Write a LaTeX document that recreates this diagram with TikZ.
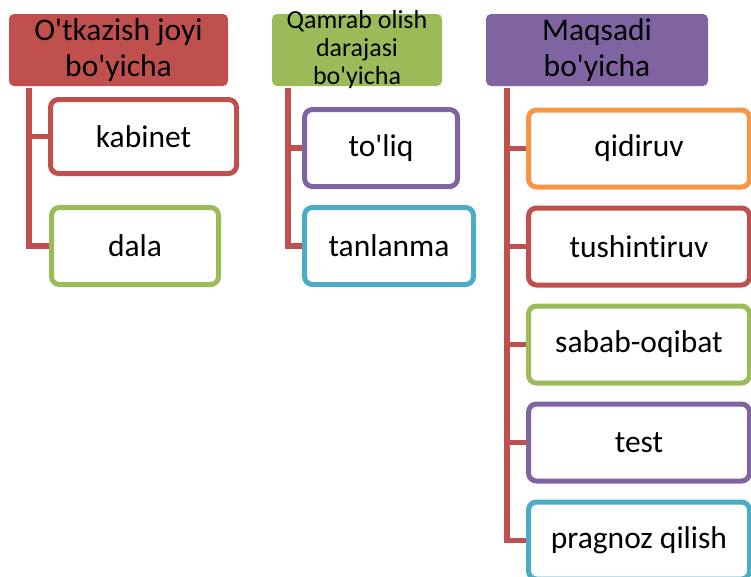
\documentclass[tikz,border=0pt]{standalone}
\usepackage{fontspec}
\setmainfont{Carlito}[Ligatures={TeXOff,CommonOff}]
\usetikzlibrary{positioning}
\definecolor{hred}{HTML}{C0504D}
\definecolor{hgreen}{HTML}{9BBB59}
\definecolor{hpurple}{HTML}{8064A2}
\definecolor{hcyan}{HTML}{4BACC6}
\definecolor{horange}{HTML}{F79646}

\begin{document}
\begin{tikzpicture}[
    x=1pt, y=-1pt,
    node distance=16pt,
    head/.style={rectangle,rounded corners=5pt,align=center,inner sep=0pt,
                 minimum height=72pt,font=\fontsize{31.5}{36}\selectfont},
    item/.style={rectangle,draw,line width=5pt,rounded corners=8pt,fill=white,
                 align=center,minimum height=77pt,font=\fontsize{31.5}{36}\selectfont},
    link/.style={hred,line width=5.5pt}
  ]
    \useasboundingbox (0,0) rectangle (751,576);

    % headers
    \node[head,fill=hred,minimum width=219pt] (h1) at (118.5,50) {O'tkazish joyi\\bo'yicha};
    \node[head,fill=hgreen,minimum width=170pt,font=\fontsize{26}{28}\selectfont] (h2) at (357,50)
      {\parbox[c][72pt][c]{170pt}{\centering Qamrab olish\\darajasi\\bo'yicha}};
    \node[head,fill=hpurple,minimum width=222pt] (h3) at (597,50) {Maqsadi\\bo'yicha};

    % first column
    \node[item,draw=hred,minimum width=186pt,minimum height=74pt] (kab) at (143.5,136.5) {kabinet};
    \node[item,draw=hgreen,minimum width=167pt] (dala) at (135,246) {dala};

    % second column
    \node[item,draw=hpurple,minimum width=153pt] (toliq) at (381,148) {to'liq};
    \node[item,draw=hcyan,minimum width=169pt] (tanl) at (389,246) {tanlanma};

    % third column
    \node[item,draw=horange,minimum width=221pt] (qid) at (639,148.5) {qidiruv};
    \node[item,draw=hred,minimum width=221pt,below=of qid] (tush) {tushintiruv};
    \node[item,draw=hgreen,minimum width=221pt,below=of tush] (sabab) {sabab-oqibat};
    \node[item,draw=hpurple,minimum width=221pt,below=of sabab] (test) {test};
    \node[item,draw=hcyan,minimum width=221pt,below=of test] (prag) {pragnoz qilish};

    \coordinate (t1) at (29,88);
    \coordinate (t2) at (288,88);
    \coordinate (t3) at (507,88);

    \draw[link] (t1) |- (kab.west);
    \draw[link] (t1) |- (dala.west);
    \draw[link] (t2) |- (toliq.west);
    \draw[link] (t2) |- (tanl.west);
    \foreach \n in {qid,tush,sabab,test,prag}
      \draw[link] (t3) |- (\n.west);
  \end{tikzpicture}
\end{document}
